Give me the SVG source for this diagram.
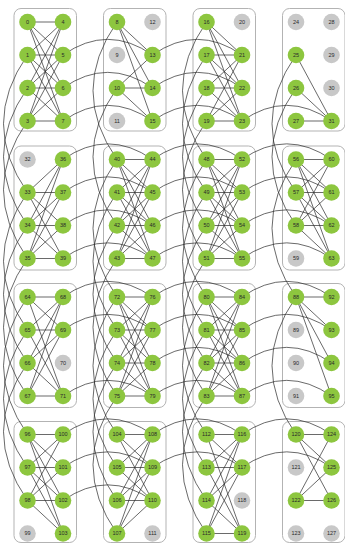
<svg xmlns="http://www.w3.org/2000/svg" width="345" height="545" viewBox="0 0 345 545">
<style>
.box{fill:#fff;stroke:#b3b3b3;stroke-width:1}
#edges line,#edges path{stroke:#2a2a2a;stroke-width:0.7;fill:none}
.a circle{fill:#8dc63f}
.i circle{fill:#c8c8c8}
text{font-family:"Liberation Sans",Arial,sans-serif;font-size:5.5px;text-anchor:middle;fill:#2a2a2a}
</style>
<rect width="345" height="545" fill="#fff"/>
<g id="boxes">
<rect class="box" x="14" y="8.5" width="62.5" height="122.5" rx="7"/>
<rect class="box" x="103.5" y="8.5" width="62.5" height="122.5" rx="7"/>
<rect class="box" x="193" y="8.5" width="62.5" height="122.5" rx="7"/>
<rect class="box" x="282.5" y="8.5" width="62.5" height="122.5" rx="7"/>
<rect class="box" x="14" y="146" width="62.5" height="124" rx="7"/>
<rect class="box" x="103.5" y="146" width="62.5" height="124" rx="7"/>
<rect class="box" x="193" y="146" width="62.5" height="124" rx="7"/>
<rect class="box" x="282.5" y="146" width="62.5" height="124" rx="7"/>
<rect class="box" x="14" y="283.5" width="62.5" height="124" rx="7"/>
<rect class="box" x="103.5" y="283.5" width="62.5" height="124" rx="7"/>
<rect class="box" x="193" y="283.5" width="62.5" height="124" rx="7"/>
<rect class="box" x="282.5" y="283.5" width="62.5" height="124" rx="7"/>
<rect class="box" x="14" y="421.5" width="62.5" height="121" rx="7"/>
<rect class="box" x="103.5" y="421.5" width="62.5" height="121" rx="7"/>
<rect class="box" x="193" y="421.5" width="62.5" height="121" rx="7"/>
<rect class="box" x="282.5" y="421.5" width="62.5" height="121" rx="7"/>
</g>
<g id="edges">
<g transform="translate(27.5,22)">
<line y1="0" x2="35.5" y2="0"/><line y1="0" x2="35.5" y2="33"/><line y1="0" x2="35.5" y2="66"/><line y1="0" x2="35.5" y2="99"/>
<line y1="33" x2="35.5" y2="0"/><line y1="33" x2="35.5" y2="33"/><line y1="33" x2="35.5" y2="66"/><line y1="33" x2="35.5" y2="99"/>
<line y1="66" x2="35.5" y2="0"/><line y1="66" x2="35.5" y2="33"/><line y1="66" x2="35.5" y2="66"/><line y1="66" x2="35.5" y2="99"/>
<line y1="99" x2="35.5" y2="0"/><line y1="99" x2="35.5" y2="33"/><line y1="99" x2="35.5" y2="66"/><line y1="99" x2="35.5" y2="99"/>
</g>
<g transform="translate(117,22)">
<line y1="0" x2="35.5" y2="33"/><line y1="0" x2="35.5" y2="66"/><line y1="0" x2="35.5" y2="99"/>
<line y1="66" x2="35.5" y2="33"/><line y1="66" x2="35.5" y2="66"/><line y1="66" x2="35.5" y2="99"/>
</g>
<g transform="translate(206.5,22)">
<line y1="0" x2="35.5" y2="33"/><line y1="0" x2="35.5" y2="66"/><line y1="0" x2="35.5" y2="99"/>
<line y1="33" x2="35.5" y2="33"/><line y1="33" x2="35.5" y2="66"/><line y1="33" x2="35.5" y2="99"/>
<line y1="66" x2="35.5" y2="33"/><line y1="66" x2="35.5" y2="66"/><line y1="66" x2="35.5" y2="99"/>
<line y1="99" x2="35.5" y2="33"/><line y1="99" x2="35.5" y2="66"/><line y1="99" x2="35.5" y2="99"/>
</g>
<g transform="translate(296,22)">
<line y1="33" x2="35.5" y2="99"/><line y1="66" x2="35.5" y2="99"/><line y1="99" x2="35.5" y2="99"/>
</g>
<g transform="translate(27.5,159.5)">
<line y1="33" x2="35.5" y2="0"/><line y1="33" x2="35.5" y2="33"/><line y1="33" x2="35.5" y2="66"/><line y1="33" x2="35.5" y2="99"/>
<line y1="66" x2="35.5" y2="0"/><line y1="66" x2="35.5" y2="33"/><line y1="66" x2="35.5" y2="66"/><line y1="66" x2="35.5" y2="99"/>
<line y1="99" x2="35.5" y2="0"/><line y1="99" x2="35.5" y2="33"/><line y1="99" x2="35.5" y2="66"/><line y1="99" x2="35.5" y2="99"/>
</g>
<g transform="translate(117,159.5)">
<line y1="0" x2="35.5" y2="0"/><line y1="0" x2="35.5" y2="33"/><line y1="0" x2="35.5" y2="66"/><line y1="0" x2="35.5" y2="99"/>
<line y1="33" x2="35.5" y2="0"/><line y1="33" x2="35.5" y2="33"/><line y1="33" x2="35.5" y2="66"/><line y1="33" x2="35.5" y2="99"/>
<line y1="66" x2="35.5" y2="0"/><line y1="66" x2="35.5" y2="33"/><line y1="66" x2="35.5" y2="66"/><line y1="66" x2="35.5" y2="99"/>
<line y1="99" x2="35.5" y2="0"/><line y1="99" x2="35.5" y2="33"/><line y1="99" x2="35.5" y2="66"/><line y1="99" x2="35.5" y2="99"/>
</g>
<g transform="translate(206.5,159.5)">
<line y1="0" x2="35.5" y2="0"/><line y1="0" x2="35.5" y2="33"/><line y1="0" x2="35.5" y2="66"/><line y1="0" x2="35.5" y2="99"/>
<line y1="33" x2="35.5" y2="0"/><line y1="33" x2="35.5" y2="33"/><line y1="33" x2="35.5" y2="66"/><line y1="33" x2="35.5" y2="99"/>
<line y1="66" x2="35.5" y2="0"/><line y1="66" x2="35.5" y2="33"/><line y1="66" x2="35.5" y2="66"/><line y1="66" x2="35.5" y2="99"/>
<line y1="99" x2="35.5" y2="0"/><line y1="99" x2="35.5" y2="33"/><line y1="99" x2="35.5" y2="66"/><line y1="99" x2="35.5" y2="99"/>
</g>
<g transform="translate(296,159.5)">
<line y1="0" x2="35.5" y2="0"/><line y1="0" x2="35.5" y2="33"/><line y1="0" x2="35.5" y2="66"/><line y1="0" x2="35.5" y2="99"/>
<line y1="33" x2="35.5" y2="0"/><line y1="33" x2="35.5" y2="33"/><line y1="33" x2="35.5" y2="66"/><line y1="33" x2="35.5" y2="99"/>
<line y1="66" x2="35.5" y2="0"/><line y1="66" x2="35.5" y2="33"/><line y1="66" x2="35.5" y2="66"/><line y1="66" x2="35.5" y2="99"/>
</g>
<g transform="translate(27.5,297)">
<line y1="0" x2="35.5" y2="0"/><line y1="0" x2="35.5" y2="33"/><line y1="0" x2="35.5" y2="99"/>
<line y1="33" x2="35.5" y2="0"/><line y1="33" x2="35.5" y2="33"/><line y1="33" x2="35.5" y2="99"/>
<line y1="66" x2="35.5" y2="0"/><line y1="66" x2="35.5" y2="33"/><line y1="66" x2="35.5" y2="99"/>
<line y1="99" x2="35.5" y2="0"/><line y1="99" x2="35.5" y2="33"/><line y1="99" x2="35.5" y2="99"/>
</g>
<g transform="translate(117,297)">
<line y1="0" x2="35.5" y2="0"/><line y1="0" x2="35.5" y2="33"/><line y1="0" x2="35.5" y2="66"/><line y1="0" x2="35.5" y2="99"/>
<line y1="33" x2="35.5" y2="0"/><line y1="33" x2="35.5" y2="33"/><line y1="33" x2="35.5" y2="66"/><line y1="33" x2="35.5" y2="99"/>
<line y1="66" x2="35.5" y2="0"/><line y1="66" x2="35.5" y2="33"/><line y1="66" x2="35.5" y2="66"/><line y1="66" x2="35.5" y2="99"/>
<line y1="99" x2="35.5" y2="0"/><line y1="99" x2="35.5" y2="33"/><line y1="99" x2="35.5" y2="66"/><line y1="99" x2="35.5" y2="99"/>
</g>
<g transform="translate(206.5,297)">
<line y1="0" x2="35.5" y2="0"/><line y1="0" x2="35.5" y2="33"/><line y1="0" x2="35.5" y2="66"/><line y1="0" x2="35.5" y2="99"/>
<line y1="33" x2="35.5" y2="0"/><line y1="33" x2="35.5" y2="33"/><line y1="33" x2="35.5" y2="66"/><line y1="33" x2="35.5" y2="99"/>
<line y1="66" x2="35.5" y2="0"/><line y1="66" x2="35.5" y2="33"/><line y1="66" x2="35.5" y2="66"/><line y1="66" x2="35.5" y2="99"/>
<line y1="99" x2="35.5" y2="0"/><line y1="99" x2="35.5" y2="33"/><line y1="99" x2="35.5" y2="66"/><line y1="99" x2="35.5" y2="99"/>
</g>
<g transform="translate(296,297)">
<line y1="0" x2="35.5" y2="0"/><line y1="0" x2="35.5" y2="33"/><line y1="0" x2="35.5" y2="66"/><line y1="0" x2="35.5" y2="99"/>
</g>
<g transform="translate(27.5,434.5)">
<line y1="0" x2="35.5" y2="0"/><line y1="0" x2="35.5" y2="33"/><line y1="0" x2="35.5" y2="66"/><line y1="0" x2="35.5" y2="99"/>
<line y1="33" x2="35.5" y2="0"/><line y1="33" x2="35.5" y2="33"/><line y1="33" x2="35.5" y2="66"/><line y1="33" x2="35.5" y2="99"/>
<line y1="66" x2="35.5" y2="0"/><line y1="66" x2="35.5" y2="33"/><line y1="66" x2="35.5" y2="66"/><line y1="66" x2="35.5" y2="99"/>
</g>
<g transform="translate(117,434.5)">
<line y1="0" x2="35.5" y2="0"/><line y1="0" x2="35.5" y2="33"/><line y1="0" x2="35.5" y2="66"/>
<line y1="33" x2="35.5" y2="0"/><line y1="33" x2="35.5" y2="33"/><line y1="33" x2="35.5" y2="66"/>
<line y1="66" x2="35.5" y2="0"/><line y1="66" x2="35.5" y2="33"/><line y1="66" x2="35.5" y2="66"/>
<line y1="99" x2="35.5" y2="0"/><line y1="99" x2="35.5" y2="33"/><line y1="99" x2="35.5" y2="66"/>
</g>
<g transform="translate(206.5,434.5)">
<line y1="0" x2="35.5" y2="0"/><line y1="0" x2="35.5" y2="33"/><line y1="0" x2="35.5" y2="99"/>
<line y1="33" x2="35.5" y2="0"/><line y1="33" x2="35.5" y2="33"/><line y1="33" x2="35.5" y2="99"/>
<line y1="66" x2="35.5" y2="0"/><line y1="66" x2="35.5" y2="33"/><line y1="66" x2="35.5" y2="99"/>
<line y1="99" x2="35.5" y2="0"/><line y1="99" x2="35.5" y2="33"/><line y1="99" x2="35.5" y2="99"/>
</g>
<g transform="translate(296,434.5)">
<line y1="0" x2="35.5" y2="0"/><line y1="0" x2="35.5" y2="33"/><line y1="0" x2="35.5" y2="66"/>
<line y1="66" x2="35.5" y2="0"/><line y1="66" x2="35.5" y2="33"/><line y1="66" x2="35.5" y2="66"/>
</g>
<!-- horizontal inter-cell couplers -->
<path d="M63 55Q107.75 23.7 152.5 55"/><path d="M63 88Q107.75 56.7 152.5 88"/><path d="M63 121Q107.75 89.7 152.5 121"/>
<path d="M152.5 55Q197.25 23.7 242 55"/><path d="M152.5 88Q197.25 56.7 242 88"/><path d="M152.5 121Q197.25 89.7 242 121"/>
<path d="M242 121Q286.75 89.7 331.5 121"/>
<path d="M63 159.5Q107.75 128.2 152.5 159.5"/><path d="M63 192.5Q107.75 161.2 152.5 192.5"/><path d="M63 225.5Q107.75 194.2 152.5 225.5"/><path d="M63 258.5Q107.75 227.2 152.5 258.5"/>
<path d="M152.5 159.5Q197.25 128.2 242 159.5"/><path d="M152.5 192.5Q197.25 161.2 242 192.5"/><path d="M152.5 225.5Q197.25 194.2 242 225.5"/><path d="M152.5 258.5Q197.25 227.2 242 258.5"/>
<path d="M242 159.5Q286.75 128.2 331.5 159.5"/><path d="M242 192.5Q286.75 161.2 331.5 192.5"/><path d="M242 225.5Q286.75 194.2 331.5 225.5"/><path d="M242 258.5Q286.75 227.2 331.5 258.5"/>
<path d="M63 297Q107.75 265.7 152.5 297"/><path d="M63 330Q107.75 298.7 152.5 330"/><path d="M63 396Q107.75 364.7 152.5 396"/>
<path d="M152.5 297Q197.25 265.7 242 297"/><path d="M152.5 330Q197.25 298.7 242 330"/><path d="M152.5 363Q197.25 331.7 242 363"/><path d="M152.5 396Q197.25 364.7 242 396"/>
<path d="M242 297Q286.75 265.7 331.5 297"/><path d="M242 330Q286.75 298.7 331.5 330"/><path d="M242 363Q286.75 331.7 331.5 363"/><path d="M242 396Q286.75 364.7 331.5 396"/>
<path d="M63 434.5Q107.75 403.2 152.5 434.5"/><path d="M63 467.5Q107.75 436.2 152.5 467.5"/><path d="M63 500.5Q107.75 469.2 152.5 500.5"/>
<path d="M152.5 434.5Q197.25 403.2 242 434.5"/><path d="M152.5 467.5Q197.25 436.2 242 467.5"/>
<path d="M242 434.5Q286.75 403.2 331.5 434.5"/><path d="M242 467.5Q286.75 436.2 331.5 467.5"/>
<!-- vertical inter-cell couplers -->
<path d="M27.5 55Q-20.5 123.75 27.5 192.5"/><path d="M27.5 88Q-20.5 156.75 27.5 225.5"/><path d="M27.5 121Q-20.5 189.75 27.5 258.5"/>
<path d="M27.5 192.5Q-20.5 261.25 27.5 330"/><path d="M27.5 225.5Q-20.5 294.25 27.5 363"/><path d="M27.5 258.5Q-20.5 327.25 27.5 396"/>
<path d="M27.5 297Q-20.5 365.75 27.5 434.5"/><path d="M27.5 330Q-20.5 398.75 27.5 467.5"/><path d="M27.5 363Q-20.5 431.75 27.5 500.5"/>
<path d="M117 22Q69 90.75 117 159.5"/><path d="M117 88Q69 156.75 117 225.5"/>
<path d="M117 159.5Q69 228.25 117 297"/><path d="M117 192.5Q69 261.25 117 330"/><path d="M117 225.5Q69 294.25 117 363"/><path d="M117 258.5Q69 327.25 117 396"/>
<path d="M117 297Q69 365.75 117 434.5"/><path d="M117 330Q69 398.75 117 467.5"/><path d="M117 363Q69 431.75 117 500.5"/><path d="M117 396Q69 464.75 117 533.5"/>
<path d="M206.5 22Q158.5 90.75 206.5 159.5"/><path d="M206.5 55Q158.5 123.75 206.5 192.5"/><path d="M206.5 88Q158.5 156.75 206.5 225.5"/><path d="M206.5 121Q158.5 189.75 206.5 258.5"/>
<path d="M206.5 159.5Q158.5 228.25 206.5 297"/><path d="M206.5 192.5Q158.5 261.25 206.5 330"/><path d="M206.5 225.5Q158.5 294.25 206.5 363"/><path d="M206.5 258.5Q158.5 327.25 206.5 396"/>
<path d="M206.5 297Q158.5 365.75 206.5 434.5"/><path d="M206.5 330Q158.5 398.75 206.5 467.5"/><path d="M206.5 363Q158.5 431.75 206.5 500.5"/><path d="M206.5 396Q158.5 464.75 206.5 533.5"/>
<path d="M296 55Q248 123.75 296 192.5"/><path d="M296 88Q248 156.75 296 225.5"/>
<path d="M296 159.5Q248 228.25 296 297"/>
<path d="M296 297Q248 365.75 296 434.5"/>
</g>
<g id="nodes">
<g id="cell0" transform="translate(27.5,22)">
<g id="n0" class="a"><circle r="8.3"/><text y="1.9">0</text></g>
<g id="n1" class="a"><circle cy="33" r="8.3"/><text y="34.9">1</text></g>
<g id="n2" class="a"><circle cy="66" r="8.3"/><text y="67.9">2</text></g>
<g id="n3" class="a"><circle cy="99" r="8.3"/><text y="100.9">3</text></g>
<g id="n4" class="a"><circle cx="35.5" r="8.3"/><text x="35.5" y="1.9">4</text></g>
<g id="n5" class="a"><circle cx="35.5" cy="33" r="8.3"/><text x="35.5" y="34.9">5</text></g>
<g id="n6" class="a"><circle cx="35.5" cy="66" r="8.3"/><text x="35.5" y="67.9">6</text></g>
<g id="n7" class="a"><circle cx="35.5" cy="99" r="8.3"/><text x="35.5" y="100.9">7</text></g>
</g>
<g id="cell1" transform="translate(117,22)">
<g id="n8" class="a"><circle r="8.3"/><text y="1.9">8</text></g>
<g id="n9" class="i"><circle cy="33" r="8.3"/><text y="34.9">9</text></g>
<g id="n10" class="a"><circle cy="66" r="8.3"/><text y="67.9">10</text></g>
<g id="n11" class="i"><circle cy="99" r="8.3"/><text y="100.9">11</text></g>
<g id="n12" class="i"><circle cx="35.5" r="8.3"/><text x="35.5" y="1.9">12</text></g>
<g id="n13" class="a"><circle cx="35.5" cy="33" r="8.3"/><text x="35.5" y="34.9">13</text></g>
<g id="n14" class="a"><circle cx="35.5" cy="66" r="8.3"/><text x="35.5" y="67.9">14</text></g>
<g id="n15" class="a"><circle cx="35.5" cy="99" r="8.3"/><text x="35.5" y="100.9">15</text></g>
</g>
<g id="cell2" transform="translate(206.5,22)">
<g id="n16" class="a"><circle r="8.3"/><text y="1.9">16</text></g>
<g id="n17" class="a"><circle cy="33" r="8.3"/><text y="34.9">17</text></g>
<g id="n18" class="a"><circle cy="66" r="8.3"/><text y="67.9">18</text></g>
<g id="n19" class="a"><circle cy="99" r="8.3"/><text y="100.9">19</text></g>
<g id="n20" class="i"><circle cx="35.5" r="8.3"/><text x="35.5" y="1.9">20</text></g>
<g id="n21" class="a"><circle cx="35.5" cy="33" r="8.3"/><text x="35.5" y="34.9">21</text></g>
<g id="n22" class="a"><circle cx="35.5" cy="66" r="8.3"/><text x="35.5" y="67.9">22</text></g>
<g id="n23" class="a"><circle cx="35.5" cy="99" r="8.3"/><text x="35.5" y="100.9">23</text></g>
</g>
<g id="cell3" transform="translate(296,22)">
<g id="n24" class="i"><circle r="8.3"/><text y="1.9">24</text></g>
<g id="n25" class="a"><circle cy="33" r="8.3"/><text y="34.9">25</text></g>
<g id="n26" class="a"><circle cy="66" r="8.3"/><text y="67.9">26</text></g>
<g id="n27" class="a"><circle cy="99" r="8.3"/><text y="100.9">27</text></g>
<g id="n28" class="i"><circle cx="35.5" r="8.3"/><text x="35.5" y="1.9">28</text></g>
<g id="n29" class="i"><circle cx="35.5" cy="33" r="8.3"/><text x="35.5" y="34.9">29</text></g>
<g id="n30" class="i"><circle cx="35.5" cy="66" r="8.3"/><text x="35.5" y="67.9">30</text></g>
<g id="n31" class="a"><circle cx="35.5" cy="99" r="8.3"/><text x="35.5" y="100.9">31</text></g>
</g>
<g id="cell4" transform="translate(27.5,159.5)">
<g id="n32" class="i"><circle r="8.3"/><text y="1.9">32</text></g>
<g id="n33" class="a"><circle cy="33" r="8.3"/><text y="34.9">33</text></g>
<g id="n34" class="a"><circle cy="66" r="8.3"/><text y="67.9">34</text></g>
<g id="n35" class="a"><circle cy="99" r="8.3"/><text y="100.9">35</text></g>
<g id="n36" class="a"><circle cx="35.5" r="8.3"/><text x="35.5" y="1.9">36</text></g>
<g id="n37" class="a"><circle cx="35.5" cy="33" r="8.3"/><text x="35.5" y="34.9">37</text></g>
<g id="n38" class="a"><circle cx="35.5" cy="66" r="8.3"/><text x="35.5" y="67.9">38</text></g>
<g id="n39" class="a"><circle cx="35.5" cy="99" r="8.3"/><text x="35.5" y="100.9">39</text></g>
</g>
<g id="cell5" transform="translate(117,159.5)">
<g id="n40" class="a"><circle r="8.3"/><text y="1.9">40</text></g>
<g id="n41" class="a"><circle cy="33" r="8.3"/><text y="34.9">41</text></g>
<g id="n42" class="a"><circle cy="66" r="8.3"/><text y="67.9">42</text></g>
<g id="n43" class="a"><circle cy="99" r="8.3"/><text y="100.9">43</text></g>
<g id="n44" class="a"><circle cx="35.5" r="8.3"/><text x="35.5" y="1.9">44</text></g>
<g id="n45" class="a"><circle cx="35.5" cy="33" r="8.3"/><text x="35.5" y="34.9">45</text></g>
<g id="n46" class="a"><circle cx="35.5" cy="66" r="8.3"/><text x="35.5" y="67.9">46</text></g>
<g id="n47" class="a"><circle cx="35.5" cy="99" r="8.3"/><text x="35.5" y="100.9">47</text></g>
</g>
<g id="cell6" transform="translate(206.5,159.5)">
<g id="n48" class="a"><circle r="8.3"/><text y="1.9">48</text></g>
<g id="n49" class="a"><circle cy="33" r="8.3"/><text y="34.9">49</text></g>
<g id="n50" class="a"><circle cy="66" r="8.3"/><text y="67.9">50</text></g>
<g id="n51" class="a"><circle cy="99" r="8.3"/><text y="100.9">51</text></g>
<g id="n52" class="a"><circle cx="35.5" r="8.3"/><text x="35.5" y="1.9">52</text></g>
<g id="n53" class="a"><circle cx="35.5" cy="33" r="8.3"/><text x="35.5" y="34.9">53</text></g>
<g id="n54" class="a"><circle cx="35.5" cy="66" r="8.3"/><text x="35.5" y="67.9">54</text></g>
<g id="n55" class="a"><circle cx="35.5" cy="99" r="8.3"/><text x="35.5" y="100.9">55</text></g>
</g>
<g id="cell7" transform="translate(296,159.5)">
<g id="n56" class="a"><circle r="8.3"/><text y="1.9">56</text></g>
<g id="n57" class="a"><circle cy="33" r="8.3"/><text y="34.9">57</text></g>
<g id="n58" class="a"><circle cy="66" r="8.3"/><text y="67.9">58</text></g>
<g id="n59" class="i"><circle cy="99" r="8.3"/><text y="100.9">59</text></g>
<g id="n60" class="a"><circle cx="35.5" r="8.3"/><text x="35.5" y="1.9">60</text></g>
<g id="n61" class="a"><circle cx="35.5" cy="33" r="8.3"/><text x="35.5" y="34.9">61</text></g>
<g id="n62" class="a"><circle cx="35.5" cy="66" r="8.3"/><text x="35.5" y="67.9">62</text></g>
<g id="n63" class="a"><circle cx="35.5" cy="99" r="8.3"/><text x="35.5" y="100.9">63</text></g>
</g>
<g id="cell8" transform="translate(27.5,297)">
<g id="n64" class="a"><circle r="8.3"/><text y="1.9">64</text></g>
<g id="n65" class="a"><circle cy="33" r="8.3"/><text y="34.9">65</text></g>
<g id="n66" class="a"><circle cy="66" r="8.3"/><text y="67.9">66</text></g>
<g id="n67" class="a"><circle cy="99" r="8.3"/><text y="100.9">67</text></g>
<g id="n68" class="a"><circle cx="35.5" r="8.3"/><text x="35.5" y="1.9">68</text></g>
<g id="n69" class="a"><circle cx="35.5" cy="33" r="8.3"/><text x="35.5" y="34.9">69</text></g>
<g id="n70" class="i"><circle cx="35.5" cy="66" r="8.3"/><text x="35.5" y="67.9">70</text></g>
<g id="n71" class="a"><circle cx="35.5" cy="99" r="8.3"/><text x="35.5" y="100.9">71</text></g>
</g>
<g id="cell9" transform="translate(117,297)">
<g id="n72" class="a"><circle r="8.3"/><text y="1.9">72</text></g>
<g id="n73" class="a"><circle cy="33" r="8.3"/><text y="34.9">73</text></g>
<g id="n74" class="a"><circle cy="66" r="8.3"/><text y="67.9">74</text></g>
<g id="n75" class="a"><circle cy="99" r="8.3"/><text y="100.9">75</text></g>
<g id="n76" class="a"><circle cx="35.5" r="8.3"/><text x="35.5" y="1.9">76</text></g>
<g id="n77" class="a"><circle cx="35.5" cy="33" r="8.3"/><text x="35.5" y="34.9">77</text></g>
<g id="n78" class="a"><circle cx="35.5" cy="66" r="8.3"/><text x="35.5" y="67.9">78</text></g>
<g id="n79" class="a"><circle cx="35.5" cy="99" r="8.3"/><text x="35.5" y="100.9">79</text></g>
</g>
<g id="cell10" transform="translate(206.5,297)">
<g id="n80" class="a"><circle r="8.3"/><text y="1.9">80</text></g>
<g id="n81" class="a"><circle cy="33" r="8.3"/><text y="34.9">81</text></g>
<g id="n82" class="a"><circle cy="66" r="8.3"/><text y="67.9">82</text></g>
<g id="n83" class="a"><circle cy="99" r="8.3"/><text y="100.9">83</text></g>
<g id="n84" class="a"><circle cx="35.5" r="8.3"/><text x="35.5" y="1.9">84</text></g>
<g id="n85" class="a"><circle cx="35.5" cy="33" r="8.3"/><text x="35.5" y="34.9">85</text></g>
<g id="n86" class="a"><circle cx="35.5" cy="66" r="8.3"/><text x="35.5" y="67.9">86</text></g>
<g id="n87" class="a"><circle cx="35.5" cy="99" r="8.3"/><text x="35.5" y="100.9">87</text></g>
</g>
<g id="cell11" transform="translate(296,297)">
<g id="n88" class="a"><circle r="8.3"/><text y="1.9">88</text></g>
<g id="n89" class="i"><circle cy="33" r="8.3"/><text y="34.9">89</text></g>
<g id="n90" class="i"><circle cy="66" r="8.3"/><text y="67.9">90</text></g>
<g id="n91" class="i"><circle cy="99" r="8.3"/><text y="100.9">91</text></g>
<g id="n92" class="a"><circle cx="35.5" r="8.3"/><text x="35.5" y="1.9">92</text></g>
<g id="n93" class="a"><circle cx="35.5" cy="33" r="8.3"/><text x="35.5" y="34.9">93</text></g>
<g id="n94" class="a"><circle cx="35.5" cy="66" r="8.3"/><text x="35.5" y="67.9">94</text></g>
<g id="n95" class="a"><circle cx="35.5" cy="99" r="8.3"/><text x="35.5" y="100.9">95</text></g>
</g>
<g id="cell12" transform="translate(27.5,434.5)">
<g id="n96" class="a"><circle r="8.3"/><text y="1.9">96</text></g>
<g id="n97" class="a"><circle cy="33" r="8.3"/><text y="34.9">97</text></g>
<g id="n98" class="a"><circle cy="66" r="8.3"/><text y="67.9">98</text></g>
<g id="n99" class="i"><circle cy="99" r="8.3"/><text y="100.9">99</text></g>
<g id="n100" class="a"><circle cx="35.5" r="8.3"/><text x="35.5" y="1.9">100</text></g>
<g id="n101" class="a"><circle cx="35.5" cy="33" r="8.3"/><text x="35.5" y="34.9">101</text></g>
<g id="n102" class="a"><circle cx="35.5" cy="66" r="8.3"/><text x="35.5" y="67.9">102</text></g>
<g id="n103" class="a"><circle cx="35.5" cy="99" r="8.3"/><text x="35.5" y="100.9">103</text></g>
</g>
<g id="cell13" transform="translate(117,434.5)">
<g id="n104" class="a"><circle r="8.3"/><text y="1.9">104</text></g>
<g id="n105" class="a"><circle cy="33" r="8.3"/><text y="34.9">105</text></g>
<g id="n106" class="a"><circle cy="66" r="8.3"/><text y="67.9">106</text></g>
<g id="n107" class="a"><circle cy="99" r="8.3"/><text y="100.9">107</text></g>
<g id="n108" class="a"><circle cx="35.5" r="8.3"/><text x="35.5" y="1.9">108</text></g>
<g id="n109" class="a"><circle cx="35.5" cy="33" r="8.3"/><text x="35.5" y="34.9">109</text></g>
<g id="n110" class="a"><circle cx="35.5" cy="66" r="8.3"/><text x="35.5" y="67.9">110</text></g>
<g id="n111" class="i"><circle cx="35.5" cy="99" r="8.3"/><text x="35.5" y="100.9">111</text></g>
</g>
<g id="cell14" transform="translate(206.5,434.5)">
<g id="n112" class="a"><circle r="8.3"/><text y="1.9">112</text></g>
<g id="n113" class="a"><circle cy="33" r="8.3"/><text y="34.9">113</text></g>
<g id="n114" class="a"><circle cy="66" r="8.3"/><text y="67.9">114</text></g>
<g id="n115" class="a"><circle cy="99" r="8.3"/><text y="100.9">115</text></g>
<g id="n116" class="a"><circle cx="35.5" r="8.3"/><text x="35.5" y="1.9">116</text></g>
<g id="n117" class="a"><circle cx="35.5" cy="33" r="8.3"/><text x="35.5" y="34.9">117</text></g>
<g id="n118" class="i"><circle cx="35.5" cy="66" r="8.3"/><text x="35.5" y="67.9">118</text></g>
<g id="n119" class="a"><circle cx="35.5" cy="99" r="8.3"/><text x="35.5" y="100.9">119</text></g>
</g>
<g id="cell15" transform="translate(296,434.5)">
<g id="n120" class="a"><circle r="8.3"/><text y="1.9">120</text></g>
<g id="n121" class="i"><circle cy="33" r="8.3"/><text y="34.9">121</text></g>
<g id="n122" class="a"><circle cy="66" r="8.3"/><text y="67.9">122</text></g>
<g id="n123" class="i"><circle cy="99" r="8.3"/><text y="100.9">123</text></g>
<g id="n124" class="a"><circle cx="35.5" r="8.3"/><text x="35.5" y="1.9">124</text></g>
<g id="n125" class="a"><circle cx="35.5" cy="33" r="8.3"/><text x="35.5" y="34.9">125</text></g>
<g id="n126" class="a"><circle cx="35.5" cy="66" r="8.3"/><text x="35.5" y="67.9">126</text></g>
<g id="n127" class="i"><circle cx="35.5" cy="99" r="8.3"/><text x="35.5" y="100.9">127</text></g>
</g>
</g>
</svg>
